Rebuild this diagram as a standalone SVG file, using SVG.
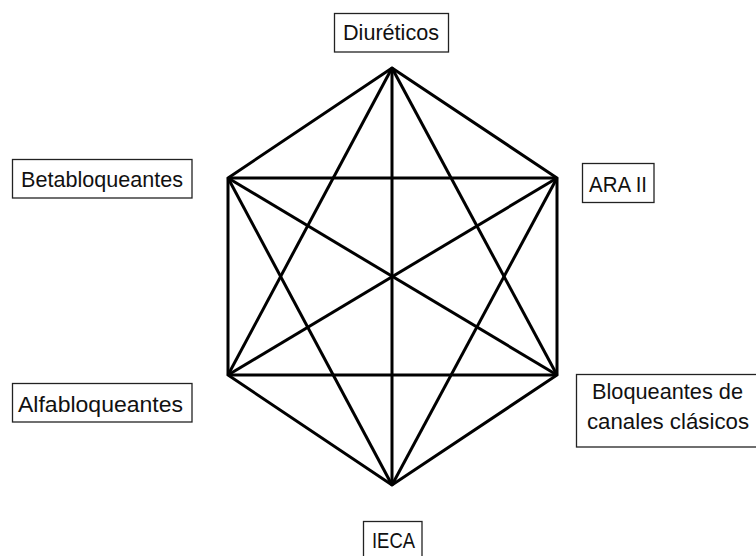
<svg xmlns="http://www.w3.org/2000/svg" width="756" height="556" viewBox="0 0 756 556">
<style>
.box{fill:#fff;stroke:#222;stroke-width:1.3}
.lbl{font-family:"Liberation Sans",Arial,sans-serif;font-size:22.5px;fill:#111}
.edge{stroke:#000;stroke-width:3;fill:none;stroke-linejoin:miter}
</style>
<rect width="756" height="556" fill="#fff"/>
<g id="connectors">
<path class="edge" d="M392,68 L557,178 L557,375 L392,485 L228,375 L228,178 Z"/>
<line class="edge" x1="392" y1="68" x2="392" y2="485"/>
<line class="edge" x1="392" y1="68" x2="228" y2="375"/>
<line class="edge" x1="392" y1="68" x2="557" y2="375"/>
<line class="edge" x1="228" y1="178" x2="557" y2="178"/>
<line class="edge" x1="228" y1="178" x2="557" y2="375"/>
<line class="edge" x1="228" y1="178" x2="392" y2="485"/>
<line class="edge" x1="557" y1="178" x2="228" y2="375"/>
<line class="edge" x1="557" y1="178" x2="392" y2="485"/>
<line class="edge" x1="228" y1="375" x2="557" y2="375"/>
</g>
<g id="diureticos">
<rect class="box" x="334.5" y="13.5" width="114" height="38.5"/>
<text class="lbl" x="343" y="40" textLength="96" lengthAdjust="spacingAndGlyphs">Diuréticos</text>
</g>
<g id="betabloqueantes">
<rect class="box" x="12.5" y="159.5" width="179.5" height="38.5"/>
<text class="lbl" x="21" y="187" textLength="162" lengthAdjust="spacingAndGlyphs">Betabloqueantes</text>
</g>
<g id="ara2">
<rect class="box" x="582.5" y="163.5" width="71.5" height="39"/>
<text class="lbl" x="589" y="192" textLength="58" lengthAdjust="spacingAndGlyphs">ARA II</text>
</g>
<g id="alfabloqueantes">
<rect class="box" x="12.5" y="383.5" width="179.5" height="38.5"/>
<text class="lbl" x="18" y="412" textLength="165" lengthAdjust="spacingAndGlyphs">Alfabloqueantes</text>
</g>
<g id="bloqueantes">
<rect class="box" x="576.5" y="374.5" width="182" height="72.5"/>
<text class="lbl" x="592" y="399" textLength="151" lengthAdjust="spacingAndGlyphs">Bloqueantes de</text>
<text class="lbl" x="587" y="429" textLength="162" lengthAdjust="spacingAndGlyphs">canales clásicos</text>
</g>
<g id="ieca">
<rect class="box" x="363.5" y="521.5" width="58.5" height="40"/>
<text class="lbl" x="372" y="548" textLength="43" lengthAdjust="spacingAndGlyphs">IECA</text>
</g>
</svg>
